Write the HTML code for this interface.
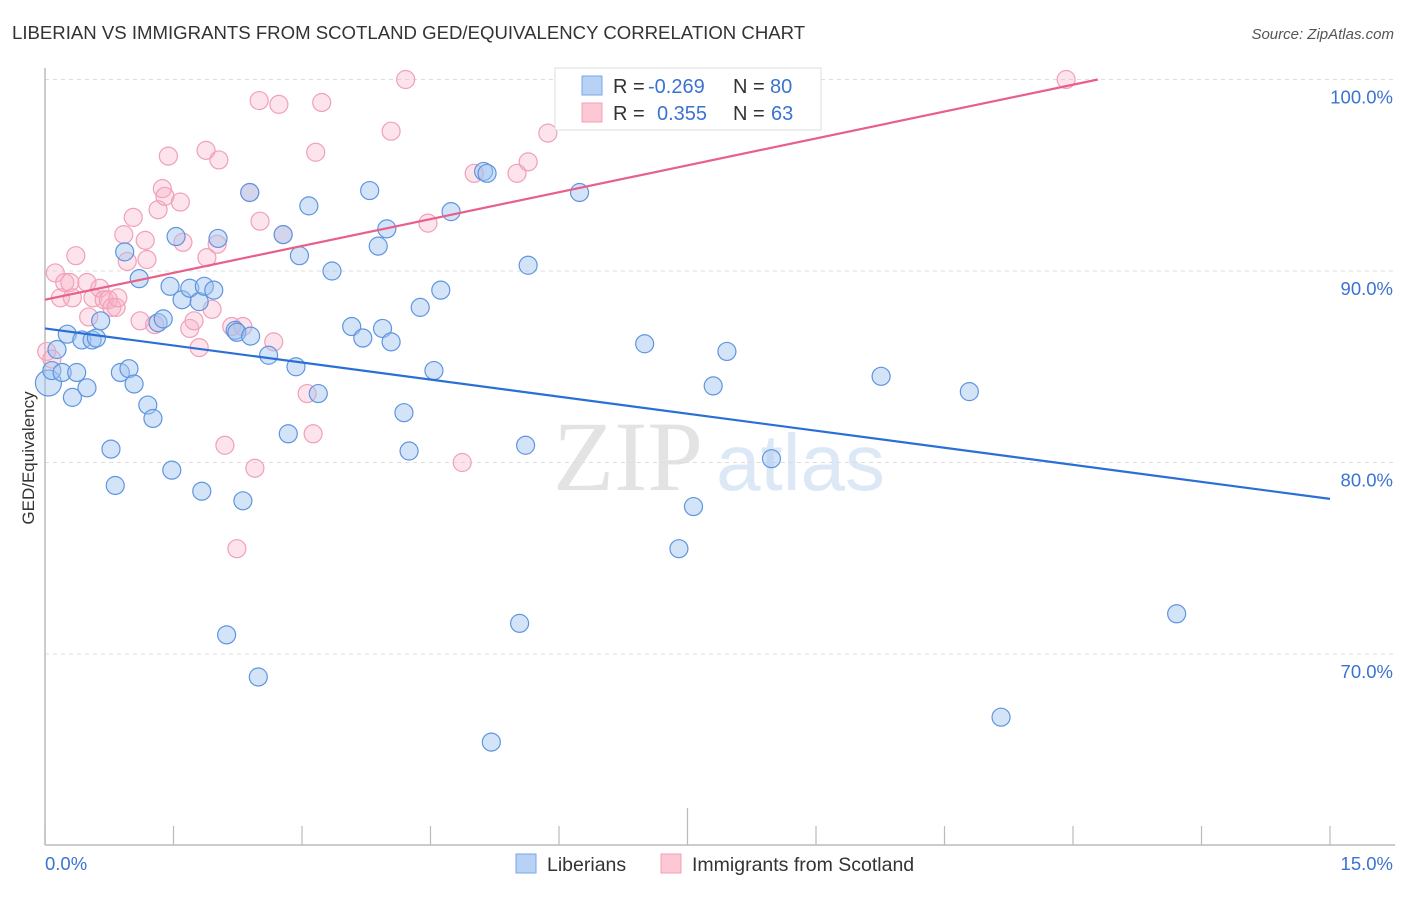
<!DOCTYPE html>
<html><head><meta charset="utf-8">
<style>
html,body{margin:0;padding:0;background:#fff;}
body{width:1406px;height:892px;overflow:hidden;font-family:"Liberation Sans",sans-serif;}
</style></head>
<body>
<svg id="chart" width="1406" height="892" viewBox="0 0 1406 892" xmlns="http://www.w3.org/2000/svg">
<text x="12" y="39" font-size="18.6" fill="#333" font-family="Liberation Sans, sans-serif">LIBERIAN VS IMMIGRANTS FROM SCOTLAND GED/EQUIVALENCY CORRELATION CHART</text>
<text x="1394" y="39" font-size="15" fill="#555" font-style="italic" text-anchor="end">Source: ZipAtlas.com</text>
<g>
<text x="553" y="490" font-size="100" fill="#e3e3e3" font-family="Liberation Serif, serif">ZIP</text>
<text x="716" y="490" font-size="80" fill="#dde8f7" font-family="Liberation Sans, sans-serif">atlas</text>
</g>
<g id="grid"></g>
<g id="axes"></g>
<g id="pts"></g>
<g id="trends"></g>
<text transform="translate(34,458) rotate(-90)" font-size="17" fill="#333" text-anchor="middle">GED/Equivalency</text>
<g>
<rect x="555" y="68" width="266" height="62" fill="#fff" stroke="#ddd"/>
<rect x="582" y="76" width="20" height="19" fill="#b8d2f5" stroke="#7aa6e6"/>
<rect x="582" y="103" width="20" height="19" fill="#fcc8d6" stroke="#f0a0b8"/>
<text x="613" y="93" font-size="20" fill="#333">R = <tspan x="648" fill="#3b73d1">-0.269</tspan><tspan x="733">N = </tspan><tspan x="770" fill="#3b73d1">80</tspan></text>
<text x="613" y="120" font-size="20" fill="#333">R = <tspan x="657" fill="#3b73d1">0.355</tspan><tspan x="733">N = </tspan><tspan x="771" fill="#3b73d1">63</tspan></text>
</g>
<g>
<rect x="516" y="854" width="20" height="19" fill="#b8d2f5" stroke="#7aa6e6"/>
<text x="547" y="871" font-size="19.5" fill="#333">Liberians</text>
<rect x="661" y="854" width="20" height="19" fill="#fcc8d6" stroke="#f0a0b8"/>
<text x="692" y="871" font-size="19.5" fill="#333">Immigrants from Scotland</text>
</g>
</svg>
<script>
const blueX=[0.04,0.08,0.14,0.20,0.26,0.32,0.37,0.43,0.49,0.55,0.60,0.65,0.77,0.82,0.88,0.93,0.98,1.04,1.10,1.20,1.26,1.32,1.38,1.46,1.48,1.53,1.60,1.69,1.80,1.83,1.86,1.97,2.02,2.12,2.22,2.24,2.31,2.39,2.40,2.49,2.61,2.78,2.84,2.93,2.97,3.08,3.19,3.35,3.58,3.71,3.79,3.89,3.94,3.99,4.04,4.19,4.25,4.38,4.54,4.62,4.74,5.12,5.16,5.21,5.54,5.61,5.64,6.24,7.00,7.40,7.57,7.80,7.96,8.48,9.76,10.79,11.16,13.21];
const blueY=[84.15,84.8,85.9,84.7,86.7,83.4,84.7,86.4,83.9,86.4,86.5,87.4,80.7,78.8,84.7,91.0,84.9,84.1,89.6,83.0,82.3,87.3,87.5,89.2,79.6,91.8,88.5,89.1,88.4,78.5,89.2,89.0,91.7,71.0,86.9,86.8,78.0,94.1,86.6,68.8,85.6,91.9,81.5,85.0,90.8,93.4,83.6,90.0,87.1,86.5,94.2,91.3,87.0,92.2,86.3,82.6,80.6,88.1,84.8,89.0,93.1,95.2,95.1,65.4,71.6,80.9,90.3,94.1,86.2,75.5,77.7,84.0,85.8,80.2,84.5,83.7,66.7,72.1];
const pinkX=[0.02,0.08,0.12,0.18,0.23,0.29,0.32,0.36,0.49,0.51,0.56,0.64,0.69,0.74,0.78,0.83,0.85,0.92,0.96,1.03,1.11,1.17,1.19,1.28,1.32,1.37,1.40,1.44,1.58,1.61,1.69,1.74,1.80,1.88,1.89,1.95,2.01,2.03,2.10,2.18,2.24,2.31,2.39,2.45,2.50,2.51,2.67,2.73,2.78,3.06,3.13,3.16,3.23,4.04,4.21,4.47,4.87,5.01,5.51,5.64,5.87,11.92];
const pinkY=[85.8,85.4,89.9,88.6,89.4,89.4,88.6,90.8,89.4,87.6,88.6,89.1,88.5,88.5,88.1,88.1,88.6,91.9,90.5,92.8,87.4,91.6,90.6,87.2,93.2,94.3,93.9,96.0,93.6,91.5,87.0,87.4,86.0,96.3,90.7,88.0,91.4,95.8,80.9,87.1,75.5,87.1,94.1,79.7,98.9,92.6,86.3,98.7,91.9,83.6,81.5,96.2,98.8,97.3,100.0,92.5,80.0,95.1,95.1,95.7,97.2,100.0];
const blueTrend=[[0,87.0],[15,78.1]];
const pinkTrend=[[0,88.5],[12.29,100.0]];
const yTicks=[100,90,80,70];
const yTickLabels=["100.0%","90.0%","80.0%","70.0%"];
const xTicks=[0,1.5,3,4.5,6,7.5,9,10.5,12,13.5,15];

const NS="http://www.w3.org/2000/svg";
const xs=v=>45+v*(1285/15);
const ys=v=>79.5+(100-v)*19.15;
function mk(parent,tag,attrs){const e=document.createElementNS(NS,tag);for(const k in attrs)e.setAttribute(k,attrs[k]);parent.appendChild(e);return e;}
const grid=document.getElementById('grid'),axes=document.getElementById('axes'),pts=document.getElementById('pts'),trends=document.getElementById('trends');
yTicks.forEach((t,i)=>{
  const l=mk(grid,'line',{x1:45,x2:1395,y1:ys(t),y2:ys(t),stroke:'#ddd','stroke-dasharray':'4,4'});
  
  
  const tx=mk(axes,'text',{x:1393,y:ys(t)+24,'font-size':18.5,fill:'#3b73d1','text-anchor':'end'});
  tx.textContent=yTickLabels[i];
  
  
});
const ya=mk(axes,'line',{x1:45,x2:45,y1:68,y2:845,stroke:'#bbb','stroke-width':1.5});


const xa=mk(axes,'line',{x1:45,x2:1395,y1:845,y2:845,stroke:'#bbb','stroke-width':1.5});


xTicks.forEach((t,i)=>{
  const tk=mk(axes,'line',{x1:xs(t),x2:xs(t),y1:(i===5?808:826),y2:845,stroke:'#bbb','stroke-width':1.2});
  
  
});
const xl0=mk(axes,'text',{x:45,y:870,'font-size':18.5,fill:'#3b73d1'});xl0.textContent='0.0%';


const xl1=mk(axes,'text',{x:1393,y:870,'font-size':18.5,fill:'#3b73d1','text-anchor':'end'});xl1.textContent='15.0%';



pinkX.forEach((x,i)=>{
  const c=mk(pts,'circle',{cx:xs(x),cy:ys(pinkY[i]),r:9,fill:'rgba(248,176,198,0.35)',stroke:'#f0a0b8','stroke-width':1.2});
  
  
});
blueX.forEach((x,i)=>{
  const c=mk(pts,'circle',{cx:xs(x),cy:ys(blueY[i]),r:(i===0?13:9),fill:'rgba(160,196,240,0.45)',stroke:'#5f95e0','stroke-width':1.2});
  
  
});
const bt=mk(trends,'line',{x1:xs(blueTrend[0][0]),y1:ys(blueTrend[0][1]),x2:xs(blueTrend[1][0]),y2:ys(blueTrend[1][1]),stroke:'#2a6fd6','stroke-width':2.2});


const pt=mk(trends,'line',{x1:xs(pinkTrend[0][0]),y1:ys(pinkTrend[0][1]),x2:xs(pinkTrend[1][0]),y2:ys(pinkTrend[1][1]),stroke:'#e8608a','stroke-width':2.2});


</script>
</body></html>
